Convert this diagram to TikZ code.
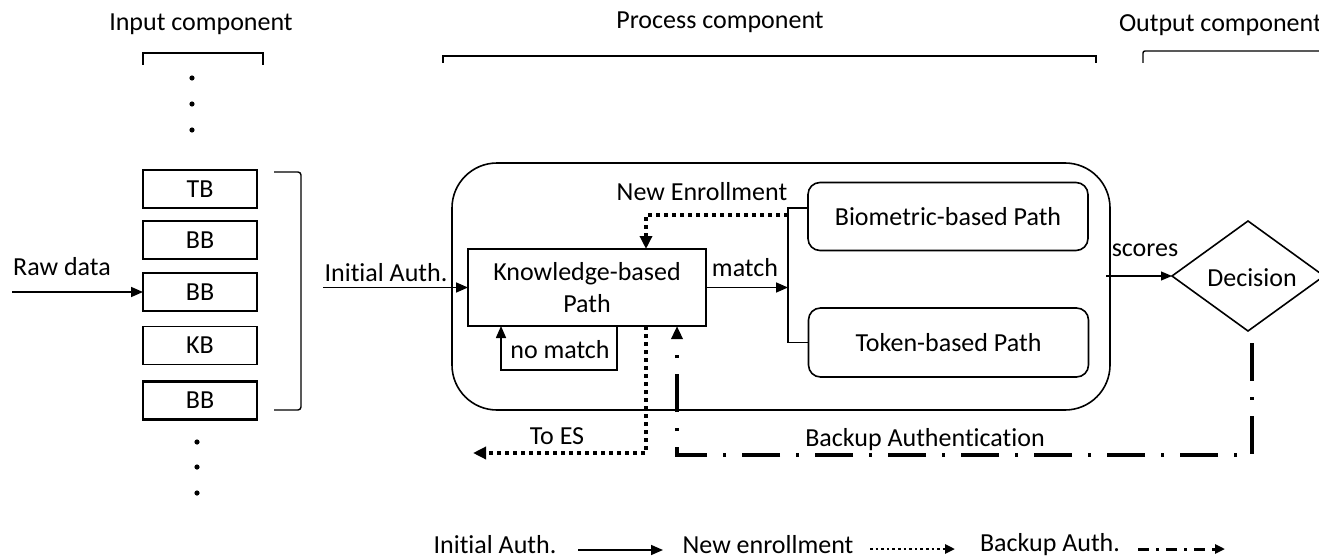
\documentclass[tikz,border=0pt]{standalone}
\usepackage{fontspec}
\setmainfont{Carlito}[RawFeature={-liga}]
\usetikzlibrary{arrows.meta,shapes.geometric}
\begin{document}
\begin{tikzpicture}[x=1pt,y=-1pt,
  every node/.style={font=\fontsize{26}{30}\selectfont, inner sep=0pt, outer sep=0pt},
  inbox/.style={draw, line width=1.6pt, minimum width=114pt, minimum height=38pt},
  inboxb/.style={inbox, line width=2.4pt},
  pathbox/.style={draw, line width=1.6pt, rounded corners=12pt, minimum width=280pt, minimum height=68pt},
  solidarr/.style={line width=1.6pt, -{Triangle[length=12pt,width=10pt]}},
  thinarr/.style={line width=1.1pt, -{Triangle[length=11pt,width=9pt]}},
  dotline/.style={line width=3.5pt, dash pattern=on 4pt off 4pt},
  dotarr/.style={dotline, -{Triangle[length=13pt,width=12pt]}},
  dashdotarr/.style={line width=4pt, dash pattern=on 38pt off 16pt on 3pt off 16pt,
    -{Triangle[length=13pt,width=11pt]}},
  bracket/.style={line width=1.4pt},
  legdot/.style={line width=2.6pt, dash pattern=on 2.6pt off 3pt, -{Triangle[length=10pt,width=9pt]}},
  legdash/.style={line width=3pt, dash pattern=on 11pt off 7pt on 3pt off 7pt, -{Triangle[length=10pt,width=9pt]}},
  fork/.style={line width=1.1pt}
]
\useasboundingbox (0,0) rectangle (1319,559);

% component headings and brackets
\node (hin) at (201,24) {Input component};
\node (hproc) at (720,22) {Process component};
\node[anchor=west] (hout) at (1119,25) {Output component};
\draw[bracket] (143,65) -- (143,53) -- (263,53) -- (263,65);
\draw[bracket] (443,63) -- (443,56) -- (1096,56) -- (1096,63);
\draw[bracket, rounded corners=2pt] (1143,63) -- (1143,51) -- (1330,51);

% input data blocks
\foreach \yy in {78,104,130} \fill (192,\yy) circle (2.6);
\node[inbox]  (tb)  at (200,189)   {TB};
\node[inbox]  (bb1) at (200,240)   {BB};
\node[inboxb] (bb2) at (200,292)   {BB};
\node[inbox]  (kb)  at (200,345.5) {KB};
\node[inboxb] (bb3) at (200,400.5) {BB};
\foreach \yy in {442,467,493} \fill (197,\yy) circle (2.6);
\draw[bracket, rounded corners=3pt] (274,172) -- (301,172) -- (301,410) -- (274,410);

\coordinate (rawstart) at (12,292);
\draw[solidarr] (rawstart) -- (bb2.west);
\node (lraw) at (62,267) {Raw data};

% process component
\node[draw, line width=1.6pt, rounded corners=45pt, minimum width=658pt, minimum height=247pt] (proc) at (781,286.5) {};
\node[draw, line width=1.8pt, minimum width=238pt, minimum height=77pt, align=center] (kp) at (587,287.5)
  {Knowledge-based\\[2pt]Path};
\node[pathbox] (bp) at (948,216.5) {Biometric-based Path};
\node[pathbox, minimum height=69pt] (tp) at (948.5,342.5) {Token-based Path};

\coordinate (iastart) at (323,287.5);
\draw[solidarr] (iastart) -- (kp.west);
\node (lia) at (386,273) {Initial Auth.};

% fork to biometric and token paths
\coordinate (ftop) at (788,208);
\coordinate (fmid) at (788,287.5);
\coordinate (fbot) at (788,342.5);
\draw[fork] (bp.west |- ftop) -- (ftop) -- (fbot) -- (tp.west);
\draw[solidarr] (kp.east) -- (fmid);
\node (lmatch) at (745,268) {match};

% new enrollment loop
\coordinate (nes) at (788,215);
\draw[dotarr] (nes) -| ([xshift=-60pt]kp.north east);
\node (lne) at (702,192) {New Enrollment};

% no match loop
\draw[solidarr] ([xshift=149pt]kp.south west) -- ++(0,44) -| ([xshift=33pt]kp.south west);
\node (lnm) at (560,350) {no match};

% to enrollment system
\coordinate (es) at (473,453);
\draw[dotarr] ([xshift=-60pt]kp.south east) |- (es);
\node (les) at (557,436) {To ES};

% decision
\node[draw, line width=1.6pt, diamond, minimum width=152pt, minimum height=110pt] (dec) at (1248,276) {};
\node (ldec) at (1252,278) {Decision};
\coordinate (sc) at (1106,276);
\draw[thinarr] (sc) -- (dec.west);
\node (lsc) at (1145,250) {scores};

% backup authentication
\coordinate (bk) at (677,455);
\draw[dashdotarr] ([yshift=-12pt, xshift=4pt]dec.south) |- (bk) -- ([xshift=-29pt]kp.south east);
\node (lbk) at (925,440) {Backup Authentication};

% legend
\node (gia) at (495,545) {Initial Auth.};
\coordinate (g1a) at (578,550); \coordinate (g1b) at (663,550);
\draw[solidarr] (g1a) -- (g1b);
\node (gne) at (768,545) {New enrollment};
\coordinate (g2a) at (870,549); \coordinate (g2b) at (955,549);
\draw[legdot] (g2a) -- (g2b);
\node (gba) at (1050,545) {Backup Auth.};
\coordinate (g3a) at (1138,549); \coordinate (g3b) at (1225,549);
\draw[legdash] (g3a) -- (g3b);
\end{tikzpicture}
\end{document}
